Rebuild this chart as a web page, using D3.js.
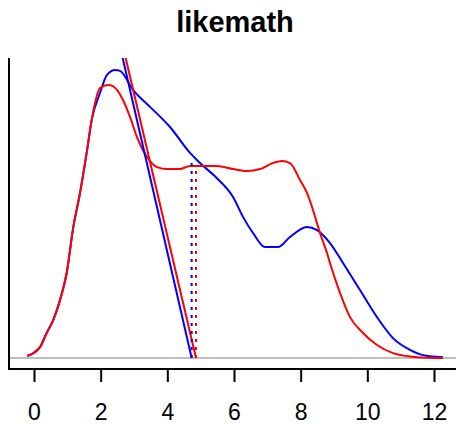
<!DOCTYPE html>
<html><head><meta charset="utf-8">
<script src="https://cdn.jsdelivr.net/npm/d3@7"></script>
<style>body{margin:0;background:#fff}svg{display:block}</style>
</head><body>
<svg id="c" width="456" height="424"></svg>
<script>
const title = "likemath";
const xTicks = [0, 2, 4, 6, 8, 10, 12];
const blueX = [-0.2,0.18,0.38,0.58,0.78,0.98,1.18,1.38,1.58,1.73,1.98,2.19,2.43,2.58,2.97,3.48,4.08,4.68,4.98,5.48,5.97,6.27,6.57,6.93,7.32,7.68,8.19,8.49,8.88,9.27,9.78,10.29,10.77,11.28,11.67,12.27];
const blueY = [0.007,0.038,0.087,0.132,0.201,0.295,0.455,0.573,0.712,0.826,0.920,0.983,1.0,0.997,0.931,0.872,0.802,0.712,0.677,0.625,0.559,0.490,0.434,0.385,0.385,0.420,0.455,0.444,0.399,0.330,0.236,0.142,0.069,0.028,0.010,0.003];
const redX = [-0.2,0.18,0.38,0.58,0.78,0.98,1.18,1.38,1.58,1.73,1.98,2.22,2.37,2.67,2.88,3.09,3.39,3.69,3.99,4.38,4.68,5.49,5.97,6.39,6.78,7.17,7.44,7.68,7.98,8.19,8.37,8.58,8.79,8.88,9.18,9.48,9.87,10.29,10.77,11.49,12.27];
const redY = [0.007,0.038,0.087,0.132,0.201,0.295,0.455,0.573,0.712,0.826,0.9375,0.948,0.944,0.896,0.837,0.767,0.698,0.663,0.656,0.656,0.667,0.667,0.656,0.649,0.656,0.677,0.684,0.677,0.618,0.573,0.514,0.434,0.365,0.330,0.226,0.142,0.087,0.045,0.017,0.003,0.0];
// straight lines (x at top, y at top, x at baseline)
const blueLine = [[2.66, 1.042], [4.73, 0]];
const redLine = [[2.75, 1.042], [4.86, 0]];
// dotted verticals [x, height]
const blueMark = [4.73, 0.6875];
const redMark = [4.86, 0.67];

const svg = d3.select("#c");
const x = d3.scaleLinear().domain([0, 12]).range([34, 434]);
const y = d3.scaleLinear().domain([0, 1]).range([358, 70]);
const plotTop = 58, plotLeft = 9, axisY = 369;

svg.append("defs").append("clipPath").attr("id", "clip")
  .append("rect").attr("x", plotLeft).attr("y", plotTop).attr("width", 456 - plotLeft).attr("height", axisY - plotTop);

svg.append("text").attr("x", 235).attr("y", 32).attr("text-anchor", "middle")
  .attr("font-family", "Liberation Sans, Arial, sans-serif").attr("font-weight", "bold")
  .attr("font-size", 29).attr("fill", "#000").text(title);

const g = svg.append("g").attr("clip-path", "url(#clip)");

g.append("line").attr("x1", plotLeft).attr("x2", 456).attr("y1", y(0)).attr("y2", y(0))
  .attr("stroke", "#bebebe").attr("stroke-width", 2);

const line = d3.line().x(d => x(d[0])).y(d => y(d[1])).curve(d3.curveMonotoneX);
const straight = d3.line().x(d => x(d[0])).y(d => y(d[1]));

function drawSeries(xs, ys, col) {
  g.append("path").datum(xs.map((v, i) => [v, ys[i]]))
    .attr("d", line).attr("fill", "none").attr("stroke", col).attr("stroke-width", 2);
}
drawSeries(blueX, blueY, "#0000ff");
drawSeries(redX, redY, "#ff0000");

g.append("path").datum(blueLine).attr("d", straight).attr("fill", "none").attr("stroke", "#0000ff").attr("stroke-width", 2);
g.append("path").datum(redLine).attr("d", straight).attr("fill", "none").attr("stroke", "#ff0000").attr("stroke-width", 2);

[[blueMark, "#0000ff"], [redMark, "#ff0000"]].forEach(([m, col]) => {
  g.append("line").attr("x1", x(m[0])).attr("x2", x(m[0])).attr("y1", y(0)).attr("y2", y(m[1]))
    .attr("stroke", col).attr("stroke-width", 2).attr("stroke-dasharray", "3,5");
});

// axes
svg.append("line").attr("x1", plotLeft).attr("x2", plotLeft).attr("y1", plotTop).attr("y2", axisY + 1)
  .attr("stroke", "#000").attr("stroke-width", 2);
const xAxis = d3.axisBottom(x).tickValues(xTicks).tickSize(13).tickPadding(22).tickFormat(d3.format("d"));
const ax = svg.append("g").attr("transform", `translate(0,${axisY})`).call(xAxis);
ax.select(".domain").remove();
ax.selectAll(".tick line").attr("stroke", "#000").attr("stroke-width", 2);
ax.selectAll(".tick text").attr("font-family", "Liberation Sans, Arial, sans-serif").attr("font-size", 23).attr("fill", "#000");
svg.append("line").attr("x1", plotLeft - 1).attr("x2", 456).attr("y1", axisY).attr("y2", axisY)
  .attr("stroke", "#000").attr("stroke-width", 2);
</script>
</body></html>
